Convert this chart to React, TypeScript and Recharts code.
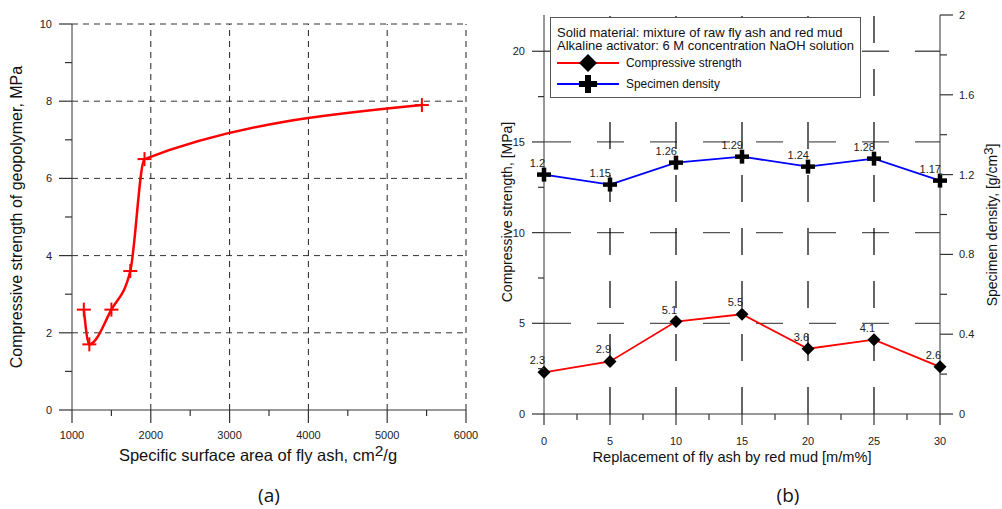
import { LineChart, Line, XAxis, YAxis, ReferenceLine, LabelList, Legend } from "recharts";

// ---- panel (a) ----
const surfaceArea = [1150, 1220, 1500, 1740, 1920, 5440];
const strengthA = [2.6, 1.7, 2.6, 3.6, 6.5, 7.9];
const aXMajor = [1000, 2000, 3000, 4000, 5000, 6000];
const aXMinor = [1500, 2500, 3500, 4500, 5500];
const aYMajor = [0, 2, 4, 6, 8, 10];
const aYMinor = [1, 3, 5, 7, 9];
const aGridX = [2000, 3000, 4000, 5000, 6000];
const aGridY = [2, 4, 6, 8, 10];

// ---- panel (b) ----
const replacement = [0, 5, 10, 15, 20, 25, 30];
const strengthB = [2.3, 2.9, 5.1, 5.5, 3.6, 4.1, 2.6];
const density = [1.2, 1.15, 1.26, 1.29, 1.24, 1.28, 1.17];
const bXMajor = [0, 5, 10, 15, 20, 25, 30];
const bXMinor = [2.5, 7.5, 12.5, 17.5, 22.5, 27.5];
const bYMajor = [0, 5, 10, 15, 20];
const bYMinor = [2.5, 7.5, 12.5, 17.5];
const bY2Major = [0, 0.4, 0.8, 1.2, 1.6, 2];
const bY2Minor = [0.2, 0.6, 1.0, 1.4, 1.8];
const bGridX = [5, 10, 15, 20, 25];
const bGridY = [5, 10, 15, 20];

const FONT = "'Liberation Sans', Arial, sans-serif";
const AXIS = "#333";
const TXT = "#222";

const aData = surfaceArea.map((x, i) => ({ x, y: strengthA[i] }));
const bData = replacement.map((r, i) => ({ r, s: strengthB[i], d: density[i] }));

const merge = (a: number[], b: number[]) => [...a, ...b].sort((p, q) => p - q);
const isIn = (list: number[], v: number) => list.some((m) => Math.abs(m - v) < 1e-9);

function makeTick(
  orient: "bottom" | "left" | "right",
  major: number[],
  majorLen: number,
  minorLen: number,
  labelGap: number,
  fontSize: number
) {
  return (props: any) => {
    const { x, y, payload } = props;
    const v = payload.value as number;
    const big = isIn(major, v);
    const len = big ? majorLen : minorLen;
    const label = String(v);
    if (orient === "bottom") {
      return (
        <g>
          <line x1={x} y1={y} x2={x} y2={y + len} stroke={AXIS} strokeWidth={1.2} />
          {big && (
            <text x={x} y={y + labelGap} textAnchor="middle" dominantBaseline="central" fontSize={fontSize} fill={TXT} fontFamily={FONT}>
              {label}
            </text>
          )}
        </g>
      );
    }
    const dir = orient === "left" ? -1 : 1;
    return (
      <g>
        <line x1={x} y1={y} x2={x + dir * len} y2={y} stroke={AXIS} strokeWidth={1.2} />
        {big && (
          <text
            x={x + dir * labelGap}
            y={y}
            textAnchor={orient === "left" ? "end" : "start"}
            dominantBaseline="central"
            fontSize={fontSize}
            fill={TXT}
            fontFamily={FONT}
          >
            {label}
          </text>
        )}
      </g>
    );
  };
}

const RedPlus = (props: any) => {
  const { cx, cy } = props;
  if (cx == null || cy == null) return null;
  return (
    <g>
      <line x1={cx - 7} y1={cy} x2={cx + 7} y2={cy} stroke="#ff0000" strokeWidth={2} />
      <line x1={cx} y1={cy - 7} x2={cx} y2={cy + 7} stroke="#ff0000" strokeWidth={2} />
    </g>
  );
};

const Diamond = (props: any) => {
  const { cx, cy } = props;
  if (cx == null || cy == null) return null;
  const r = 6.5;
  return <path d={`M${cx},${cy - r}L${cx + r},${cy}L${cx},${cy + r}L${cx - r},${cy}Z`} fill="#000" />;
};

const BlackPlus = (props: any) => {
  const { cx, cy } = props;
  if (cx == null || cy == null) return null;
  return (
    <g>
      <line x1={cx - 7} y1={cy} x2={cx + 7} y2={cy} stroke="#000" strokeWidth={4.5} />
      <line x1={cx} y1={cy - 7} x2={cx} y2={cy + 7} stroke="#000" strokeWidth={4.5} />
    </g>
  );
};

const valueLabel = (props: any) => {
  const x = props.x ?? props.viewBox?.x;
  const y = props.y ?? props.viewBox?.y;
  if (x == null || y == null) return null;
  return (
    <text x={x + 1} y={y - 12} textAnchor="end" dominantBaseline="central" fontSize={11} fill={TXT} fontFamily={FONT}>
      {String(props.value)}
    </text>
  );
};

const LegendBox = () => (
  <svg width={311} height={81} style={{ display: "block" }}>
    <rect x={0.5} y={0.5} width={310} height={80} fill="#fff" stroke="#555" strokeWidth={1} />
    <text x={7} y={15} dominantBaseline="central" fontSize={13} fill="#111" fontFamily={FONT}>
      Solid material: mixture of raw fly ash and red mud
    </text>
    <text x={7} y={28} dominantBaseline="central" fontSize={13} fill="#111" fontFamily={FONT}>
      Alkaline activator: 6 M concentration NaOH solution
    </text>
    <line x1={7} y1={46} x2={69} y2={46} stroke="#ff0000" strokeWidth={1.8} />
    <path d="M38,37L47,46L38,55L29,46Z" fill="#000" />
    <text x={76} y={46} dominantBaseline="central" fontSize={11.9} fill="#111" fontFamily={FONT}>
      Compressive strength
    </text>
    <line x1={7} y1={67} x2={69} y2={67} stroke="#0000ff" strokeWidth={1.8} />
    <line x1={29} y1={67} x2={47} y2={67} stroke="#000" strokeWidth={6} />
    <line x1={38} y1={58} x2={38} y2={76} stroke="#000" strokeWidth={6} />
    <text x={76} y={67} dominantBaseline="central" fontSize={11.9} fill="#111" fontFamily={FONT}>
      Specimen density
    </text>
  </svg>
);

function Title({ x, y, size, rotate, family, children }: any) {
  return (
    <div
      style={{
        position: "absolute",
        left: x,
        top: y,
        transform: `translate(-50%, -50%)${rotate ? " rotate(-90deg)" : ""}`,
        whiteSpace: "nowrap",
        fontFamily: family || FONT,
        fontSize: size,
        color: "#111",
        lineHeight: 1,
      }}
    >
      {children}
    </div>
  );
}

export default function App() {
  return (
    <div style={{ position: "absolute", left: 0, top: 0, width: 1002, height: 509, background: "#fff", overflow: "hidden" }}>
      {/* panel (a) */}
      <div style={{ position: "absolute", left: 0, top: 0 }}>
        <LineChart width={500} height={509} data={aData} margin={{ top: 24, right: 34, bottom: 69, left: 0 }}>
          <XAxis
            dataKey="x"
            type="number"
            domain={[1000, 6000]}
            ticks={merge(aXMajor, aXMinor)}
            interval={0}
            tickSize={0}
            tickMargin={0}
            height={30}
            stroke={AXIS}
            tick={makeTick("bottom", aXMajor, 13, 6, 25, 11)}
          />
          <YAxis
            type="number"
            domain={[0, 10]}
            ticks={merge(aYMajor, aYMinor)}
            interval={0}
            tickSize={0}
            tickMargin={0}
            width={72}
            stroke={AXIS}
            tick={makeTick("left", aYMajor, 13, 7, 20, 11)}
          />
          {aGridY.map((v) => (
            <ReferenceLine key={`ay${v}`} y={v} stroke="#333" strokeDasharray="6 5" strokeWidth={1} />
          ))}
          {aGridX.map((v) => (
            <ReferenceLine key={`ax${v}`} x={v} stroke="#222" strokeDasharray="6 5" strokeWidth={1} />
          ))}
          <Line
            type="monotone"
            dataKey="y"
            stroke="#ff0000"
            strokeWidth={2.5}
            dot={<RedPlus />}
            activeDot={false}
            isAnimationActive={false}
          />
        </LineChart>
      </div>

      {/* panel (b) */}
      <div style={{ position: "absolute", left: 500, top: 0 }}>
        <LineChart width={502} height={509} data={bData} margin={{ top: 15, right: 0, bottom: 65, left: 0 }}>
          <XAxis
            dataKey="r"
            type="number"
            domain={[0, 30]}
            ticks={merge(bXMajor, bXMinor)}
            interval={0}
            tickSize={0}
            tickMargin={0}
            height={30}
            stroke={AXIS}
            tick={makeTick("bottom", bXMajor, 11, 6, 27, 11)}
          />
          <YAxis
            yAxisId="l"
            type="number"
            domain={[0, 22]}
            ticks={merge(bYMajor, bYMinor)}
            interval={0}
            tickSize={0}
            tickMargin={0}
            width={44}
            stroke={AXIS}
            tick={makeTick("left", bYMajor, 12, 6, 19, 11)}
          />
          <YAxis
            yAxisId="r"
            orientation="right"
            type="number"
            domain={[0, 2]}
            ticks={merge(bY2Major, bY2Minor)}
            interval={0}
            tickSize={0}
            tickMargin={0}
            width={62}
            stroke={AXIS}
            tick={makeTick("right", bY2Major, 13, 7, 19, 11)}
          />
          {bGridY.map((v) => (
            <ReferenceLine key={`by${v}`} yAxisId="l" y={v} stroke="#555" strokeDasharray="27 26" strokeWidth={1.3} />
          ))}
          {bGridX.map((v) => (
            <ReferenceLine key={`bx${v}`} yAxisId="l" x={v} stroke="#000" strokeDasharray="27 26" strokeWidth={1.2} />
          ))}
          <Line
            yAxisId="l"
            type="linear"
            dataKey="s"
            stroke="#ff0000"
            strokeWidth={1.8}
            dot={<Diamond />}
            activeDot={false}
            isAnimationActive={false}
          >
            <LabelList dataKey="s" content={valueLabel} />
          </Line>
          <Line
            yAxisId="r"
            type="linear"
            dataKey="d"
            stroke="#0000ff"
            strokeWidth={1.8}
            dot={<BlackPlus />}
            activeDot={false}
            isAnimationActive={false}
          >
            <LabelList dataKey="d" content={valueLabel} />
          </Line>
          <Legend
            layout="horizontal"
            verticalAlign="middle"
            align="center"
            content={() => <LegendBox />}
            wrapperStyle={{ position: "absolute", left: 50, top: 17, width: 311, height: 81 }}
          />
        </LineChart>
      </div>

      <Title x={17} y={217} size={16} rotate>
        Compressive strength of geopolymer, MPa
      </Title>
      <Title x={258} y={455} size={16.5}>
        Specific surface area of fly ash, cm<span style={{ fontSize: 15.5, position: "relative", top: -5 }}>2</span>/g
      </Title>
      <Title x={269} y={495} size={19} family="'Open Sans', sans-serif">
        (a)
      </Title>

      <Title x={507} y={212} size={14} rotate>
        Compressive strength, [MPa]
      </Title>
      <Title x={992} y={225} size={14} rotate>
        Specimen density, [g/cm<span style={{ fontSize: 13, position: "relative", top: -4 }}>3</span>]
      </Title>
      <Title x={732} y={456.5} size={14.6}>
        Replacement of fly ash by red mud [m/m%]
      </Title>
      <Title x={788} y={495} size={19} family="'Open Sans', sans-serif">
        (b)
      </Title>
    </div>
  );
}
